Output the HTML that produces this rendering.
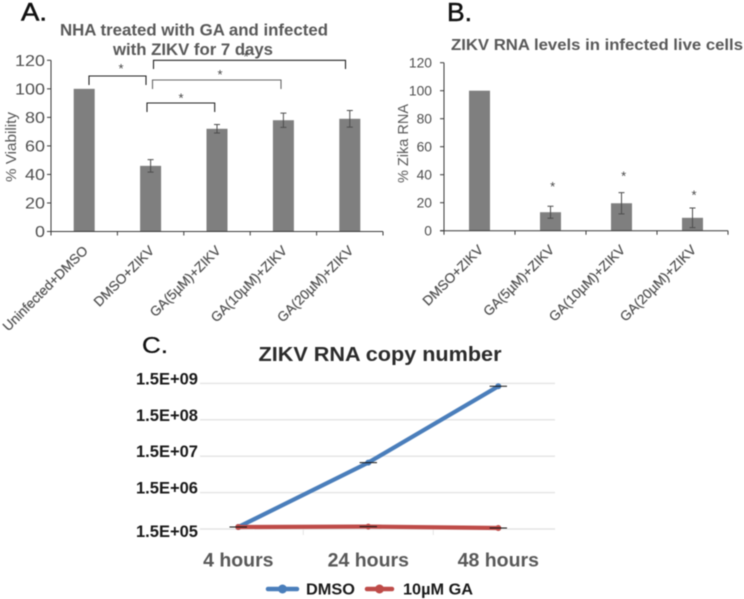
<!DOCTYPE html>
<html lang="en">
<head>
<meta charset="utf-8">
<title>ZIKV charts</title>
<style>
html,body{margin:0;padding:0;background:#fff;}
svg{display:block;filter:blur(0.4px);font-family:"Liberation Sans",Arial,sans-serif;}
</style>
</head>
<body>
<svg id="figure" xmlns="http://www.w3.org/2000/svg" width="744" height="599" viewBox="0 0 744 599">
  <rect width="744" height="599" fill="#fff"/>

  <text x="21" y="20.5" font-size="25" fill="#111" stroke="#111" stroke-width="0.5" textLength="26" lengthAdjust="spacingAndGlyphs">A.</text>
  <text x="447" y="21" font-size="26" fill="#111" stroke="#111" stroke-width="0.5" textLength="25" lengthAdjust="spacingAndGlyphs">B.</text>
  <text x="142" y="353" font-size="23" fill="#111" stroke="#111" stroke-width="0.3" textLength="26" lengthAdjust="spacingAndGlyphs">C.</text>

  <text x="60" y="35.5" font-size="16.5" font-weight="bold" fill="#595959" textLength="268" lengthAdjust="spacingAndGlyphs">NHA treated with GA and infected</text>
  <text x="113" y="55" font-size="16.5" font-weight="bold" fill="#595959" textLength="160" lengthAdjust="spacingAndGlyphs">with ZIKV for 7 days</text>
  <text x="451" y="50" font-size="16" font-weight="bold" fill="#595959" textLength="292" lengthAdjust="spacingAndGlyphs">ZIKV RNA levels in infected live cells</text>
  <text x="258.5" y="361" font-size="20" font-weight="bold" fill="#2b2b2b" textLength="243" lengthAdjust="spacingAndGlyphs">ZIKV RNA copy number</text>

  <text transform="translate(16,182) rotate(-90)" font-size="15" fill="#595959" textLength="70" lengthAdjust="spacingAndGlyphs">% Viability</text>
  <text transform="translate(408,183) rotate(-90)" font-size="14.5" fill="#595959" textLength="79" lengthAdjust="spacingAndGlyphs">% Zika RNA</text>

  <g fill="none" stroke-width="1.1">
    <path stroke="#222" d="M89 85V76H146V85"/>
    <path stroke="#222" d="M147 112V103H214.7V112"/>
    <path stroke="#666" d="M152.5 89V80H281V89"/>
    <path stroke="#222" d="M153.5 69V60.3H345.5V69"/>
  </g>
  <g font-size="13" fill="#444" text-anchor="middle">
    <text x="121" y="73">*</text>
    <text x="181" y="102.5">*</text>
    <text x="220" y="79">*</text>
    <text x="246" y="61">*</text>
    <text x="552.7" y="191">*</text>
    <text x="623.7" y="180.5">*</text>
    <text x="694" y="199.5">*</text>
  </g>

  <g>
    <line x1="268" y1="589" x2="297" y2="589" stroke="#4a7ebb" stroke-width="4.5" stroke-linecap="round"/>
    <circle cx="282.5" cy="589" r="4.5" fill="#4a7ebb"/>
    <text x="306" y="594.5" font-size="16" font-weight="bold" fill="#1a1a1a" textLength="49" lengthAdjust="spacingAndGlyphs">DMSO</text>
    <line x1="367" y1="589" x2="392" y2="589" stroke="#be4b48" stroke-width="4.5" stroke-linecap="round"/>
    <circle cx="379.5" cy="589" r="4.5" fill="#be4b48"/>
    <text x="403" y="594.5" font-size="16" font-weight="bold" fill="#1a1a1a" textLength="70" lengthAdjust="spacingAndGlyphs">10µM GA</text>
  </g>
</svg>

<script>
const categoriesA = ["Uninfected+DMSO", "DMSO+ZIKV", "GA(5µM)+ZIKV", "GA(10µM)+ZIKV", "GA(20µM)+ZIKV"];
const viabilityValues = [100, 46, 72, 78, 79];
const viabilityErrors = [0, 4.4, 3, 5, 5.8];
const viabilityTicks = [0, 20, 40, 60, 80, 100, 120];

const categoriesB = ["DMSO+ZIKV", "GA(5µM)+ZIKV", "GA(10µM)+ZIKV", "GA(20µM)+ZIKV"];
const zikaValues = [100, 13.2, 19.6, 9.2];
const zikaErrors = [0, 4.3, 7.6, 7];
const zikaTicks = [0, 20, 40, 60, 80, 100, 120];

const categoriesC = ["4 hours", "24 hours", "48 hours"];
const dmsoCopies = [1.7e5, 1.0e7, 1.25e9];
const gaCopies = [1.7e5, 1.75e5, 1.6e5];
const copyTickValues = [1.5e5, 1.5e6, 1.5e7, 1.5e8, 1.5e9];
const copyTickLabels = ["1.5E+05", "1.5E+06", "1.5E+07", "1.5E+08", "1.5E+09"];

const NS = "http://www.w3.org/2000/svg";
const fig = document.getElementById("figure");

function make(tag, attrs, parent, txt) {
  const el = document.createElementNS(NS, tag);
  for (const k in attrs) el.setAttribute(k, attrs[k]);
  if (txt !== undefined) el.textContent = txt;
  (parent || fig).appendChild(el);
  return el;
}

function drawBarChart(prefix, cats, vals, errs, ticks, o) {
  const g = make("g", {});
  
  
  const maxV = ticks[ticks.length - 1];
  const y = v => o.bottom - (v / maxV) * (o.bottom - o.top);
  const x = i => o.left + o.band * (i + 0.5);
  const right = o.left + o.band * cats.length;

  vals.forEach((v, i) => {
    const bar = make("rect", {x: x(i) - o.barW / 2, y: y(v), width: o.barW, height: y(0) - y(v), fill: "#7f7f7f"}, g);
    
    
    if (errs[i] > 0) {
      const d = "M" + (x(i) - 3) + " " + y(v + errs[i]) + "H" + (x(i) + 3) +
                "M" + x(i) + " " + y(v + errs[i]) + "V" + y(v - errs[i]) +
                "M" + (x(i) - 3) + " " + y(v - errs[i]) + "H" + (x(i) + 3);
      const eb = make("path", {d: d, stroke: "#4d4d4d", "stroke-width": 1, fill: "none"}, g);
      
      
    }
  });

  const yAxis = make("line", {x1: o.left, y1: y(maxV), x2: o.left, y2: y(0), stroke: "#3a3a3a", "stroke-width": 1}, g);
  
  
  const xAxis = make("line", {x1: o.left - 4, y1: y(0), x2: right, y2: y(0), stroke: "#3a3a3a", "stroke-width": 1}, g);
  
  

  ticks.forEach(t => {
    const tk = make("line", {x1: o.left - 4, y1: y(t), x2: o.left, y2: y(t), stroke: "#3a3a3a", "stroke-width": 1}, g);
    
    
    const s = String(t);
    const lb = make("text", {x: o.labelRight, y: y(t) + o.tickFont * 0.36, "text-anchor": "end", "font-size": o.tickFont,
      fill: "#4f4f4f", textLength: s.length * o.digitW, lengthAdjust: "spacingAndGlyphs"}, g, s);
    
    
  });

  for (let i = 0; i <= cats.length; i++) {
    const px = o.left + o.band * i;
    const tk = make("line", {x1: px, y1: y(0), x2: px, y2: y(0) + 4, stroke: "#3a3a3a", "stroke-width": 1}, g);
    
    
  }

  cats.forEach((c, i) => {
    const ax = x(i) + 4.5, ay = y(0) + 20;
    const lb = make("text", {transform: "translate(" + ax + "," + ay + ") rotate(-45)", "text-anchor": "end",
      "font-size": 13.6, fill: "#4f4f4f", stroke: "#4f4f4f", "stroke-width": 0.2}, g, c);
    
    
  });
}

drawBarChart("viability", categoriesA, viabilityValues, viabilityErrors, viabilityTicks,
  {left: 51, band: 66.4, top: 60.3, bottom: 231.5, barW: 21, labelRight: 45, tickFont: 15.5, digitW: 10});
drawBarChart("zika", categoriesB, zikaValues, zikaErrors, zikaTicks,
  {left: 444, band: 71, top: 62.7, bottom: 230.7, barW: 21, labelRight: 432, tickFont: 14, digitW: 7.7});

/* Chart C: log line chart */
const left = 173.3, band = 130, base = 529, decade = 36.4;
const xC = i => left + band * (i + 0.5);
const yC = v => base - decade * Math.log10(v / copyTickValues[0]);

const gC = make("g", {});



copyTickValues.forEach((v, i) => {
  const gl = make("line", {x1: 200, y1: yC(v), x2: 555, y2: yC(v), stroke: "#e4e4e4", "stroke-width": 1.4}, gC);
  
  
  const lb = make("text", {x: 198, y: yC(v) + (i === 0 ? 8 : 1), "text-anchor": "end", "font-size": 16.5, "font-weight": "bold",
    fill: "#1a1a1a", textLength: 62, lengthAdjust: "spacingAndGlyphs"}, gC, copyTickLabels[i]);
  
  
});

[1, 2].forEach(i => {
  const px = left + band * i;
  const tk = make("line", {x1: px, y1: base, x2: px, y2: base + 6, stroke: "#e4e4e4", "stroke-width": 1}, gC);
  
  
});

categoriesC.forEach((c, i) => {
  const lb = make("text", {x: xC(i), y: 566.5, "text-anchor": "middle", "font-size": 19.5, "font-weight": "bold", fill: "#595959"}, gC, c);
  
  
});

function drawSeries(name, vals, color) {
  const pts = vals.map((v, i) => xC(i) + "," + yC(v)).join(" ");
  const line = make("polyline", {points: pts, fill: "none", stroke: color, "stroke-width": 4.2, "stroke-linejoin": "round"}, gC);
  
  
  vals.forEach((v, i) => {
    const m = make("circle", {cx: xC(i), cy: yC(v), r: 3, fill: color}, gC);
    
    
  });
}
drawSeries("dmso", dmsoCopies, "#4a7ebb");
drawSeries("ga", gaCopies, "#be4b48");

[dmsoCopies, gaCopies].forEach(vals => {
  vals.forEach((v, i) => {
    const cap = make("line", {x1: xC(i) - 8.7, y1: yC(v), x2: xC(i) + 8.7, y2: yC(v), stroke: "#111", "stroke-width": 1}, gC);
    
    
  });
});
</script>
</body>
</html>
